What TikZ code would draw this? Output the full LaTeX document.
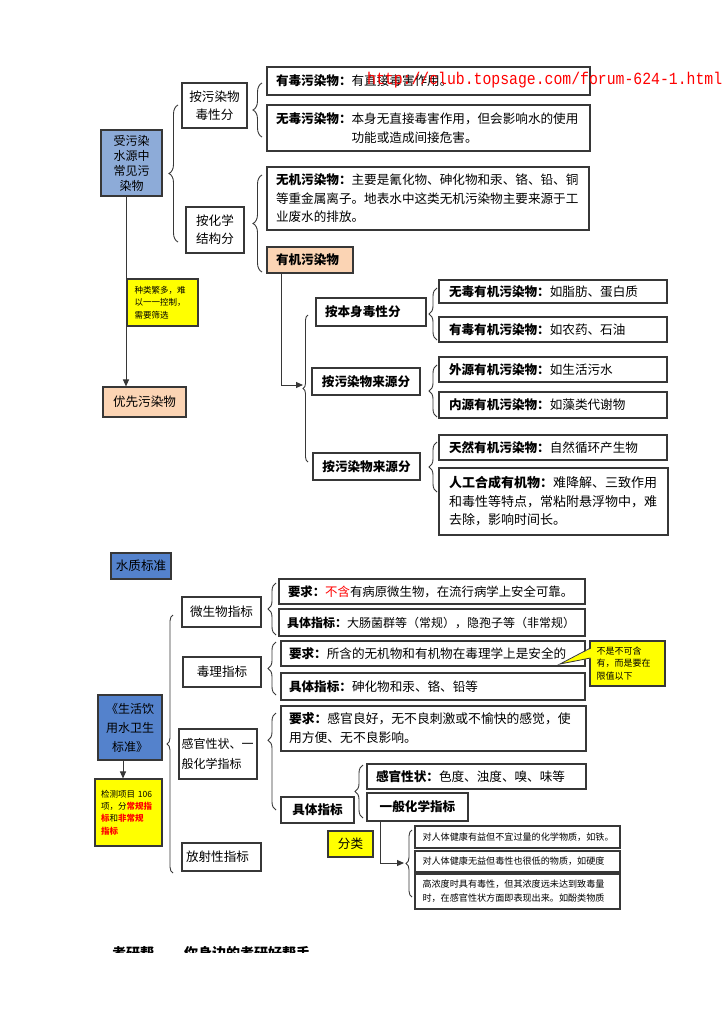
\documentclass[tikz,border=0pt]{standalone}
\usepackage{fontspec}
\setmainfont{Noto Sans CJK SC}
\newfontfamily\wmfont{Liberation Mono}
\usetikzlibrary{arrows.meta,decorations.pathreplacing}
\definecolor{bluea}{RGB}{141,171,216}
\definecolor{blueb}{RGB}{84,130,204}
\definecolor{peach}{RGB}{251,212,180}
\definecolor{yel}{RGB}{255,255,0}
\definecolor{bord}{RGB}{55,55,55}
\begin{document}
\begin{tikzpicture}[x=1pt,y=-1pt,
  bx/.style={draw=bord, line width=1.1pt, inner sep=0pt, fill=white, font=\fontsize{12.6}{18.5}\selectfont, align=left},
  bc/.style={bx, align=center},
  sm/.style={bx, font=\fontsize{9.1}{14}\selectfont},
  arr/.style={draw=bord, line width=1pt, -{Triangle[length=7pt,width=6pt]}},
  brc/.style={draw=bord, line width=0.9pt, decorate, decoration={brace, amplitude=#1}},
  brc/.default=8pt]
\useasboundingbox (0,0) rectangle (724,1024);

% ---------- top part ----------
\node[bc, fill=bluea, minimum width=61pt, minimum height=66pt, font=\fontsize{12}{15}\selectfont] (m1) at (131.5,163) {受污染\\水源中\\常见污\\染物};
\node[bc, fill=peach, minimum width=83pt, minimum height=30pt] (prio) at (144.5,402) {优先污染物};
\node[bx, fill=yel, minimum width=71pt, minimum height=47pt, text width=56pt, font=\fontsize{8.5}{12.5}\selectfont] (n1) at (162.5,302.5) {种类繁多，难\\以一一控制，\\需要筛选};

\node[bc, minimum width=65pt, minimum height=45pt, font=\fontsize{12.6}{18}\selectfont] (tox) at (214.5,105.5) {按污染物\\毒性分};
\node[bc, minimum width=58pt, minimum height=46pt, font=\fontsize{12.6}{18}\selectfont] (chem) at (215,230) {按化学\\结构分};

\node[bx, minimum width=323pt, minimum height=28pt, text width=305pt] (t1) at (428.5,81) {\textbf{有毒污染物：}有直接毒害作用。};
\node[bx, minimum width=323pt, minimum height=46pt, text width=305pt] (t2) at (428.5,128) {\textbf{无毒污染物：}本身无直接毒害作用，但会影响水的使用\\\hspace*{6em}功能或造成间接危害。};
\node[bx, minimum width=322pt, minimum height=63pt, text width=304pt] (inorg) at (428,198.5) {\textbf{无机污染物：}主要是氰化物、砷化物和汞、铬、铅、铜\\等重金属离子。地表水中这类无机污染物主要来源于工\\业废水的排放。};
\node[bx, fill=peach, minimum width=86pt, minimum height=26pt, text width=68pt] (org) at (310,260) {\textbf{有机污染物}};

% ---------- organic pollutants ----------
\node[bx, minimum width=110pt, minimum height=28pt, text width=92pt] (o1) at (371,312) {\textbf{按本身毒性分}};
\node[bc, minimum width=108pt, minimum height=27pt] (o2) at (366,381.5) {\textbf{按污染物来源分}};
\node[bc, minimum width=107pt, minimum height=27pt] (o3) at (366.5,466.5) {\textbf{按污染物来源分}};

\node[bx, minimum width=228pt, minimum height=23pt, text width=208pt] (r1) at (553,291.5) {\textbf{无毒有机污染物：}如脂肪、蛋白质};
\node[bx, minimum width=228pt, minimum height=25pt, text width=208pt] (r2) at (553,329.5) {\textbf{有毒有机污染物：}如农药、石油};
\node[bx, minimum width=228pt, minimum height=25pt, text width=208pt] (r3) at (553,369.5) {\textbf{外源有机污染物：}如生活污水};
\node[bx, minimum width=228pt, minimum height=26pt, text width=208pt] (r4) at (553,405) {\textbf{内源有机污染物：}如藻类代谢物};
\node[bx, minimum width=228pt, minimum height=25pt, text width=208pt] (r5) at (553,447.5) {\textbf{天然有机污染物：}自然循环产生物};
\node[bx, minimum width=229pt, minimum height=67pt, text width=209pt, font=\fontsize{13}{18.5}\selectfont] (r6) at (553.5,501.5) {\textbf{人工合成有机物：}难降解、三致作用\\和毒性等特点，常粘附悬浮物中，难\\去除，影响时间长。};

% ---------- water quality standard ----------
\node[bc, fill=blueb, minimum width=60pt, minimum height=26pt] (wq) at (141,566) {水质标准};
\node[bc, fill=blueb, minimum width=64pt, minimum height=65pt, font=\fontsize{12}{19}\selectfont] (std) at (130,727.5) {《生活饮\\用水卫生\\标准》};
\node[bx, fill=yel, minimum width=67pt, minimum height=67pt, text width=55pt, font=\fontsize{8.5}{12.3}\selectfont] (n2) at (128.5,812.5) {检测项目 106\\项，分\textcolor{red}{\textbf{常规指}}\\\textcolor{red}{\textbf{标}}和\textcolor{red}{\textbf{非常规}}\\\textcolor{red}{\textbf{指标}}};

\node[bc, minimum width=79pt, minimum height=30pt] (micro) at (221.5,612) {微生物指标};
\node[bc, minimum width=78pt, minimum height=30pt] (toxi) at (222,672) {毒理指标};
\node[bx, minimum width=78pt, minimum height=50pt, text width=73pt, font=\fontsize{12}{20}\selectfont] (sens) at (218,754) {感官性状、一\\般化学指标};
\node[bx, minimum width=79pt, minimum height=28pt, text width=71pt] (rad) at (221.5,857) {放射性指标};

\node[bx, minimum width=306pt, minimum height=25pt, text width=288pt, font=\fontsize{12.4}{18}\selectfont] (q1) at (432,591.5) {\textbf{要求：}\textcolor{red}{不含}有病原微生物，在流行病学上安全可靠。};
\node[bx, minimum width=306pt, minimum height=27pt, text width=290pt, font=\fontsize{12}{18}\selectfont] (q2) at (432,622.5) {\textbf{具体指标：}大肠菌群等（常规），隐孢子等（非常规）};
\node[bx, minimum width=304pt, minimum height=25pt, text width=288pt, font=\fontsize{12.6}{18}\selectfont] (q3) at (433,653.5) {\textbf{要求：}所含的无机物和有机物在毒理学上是安全的};
\node[bx, minimum width=304pt, minimum height=27pt, text width=288pt, font=\fontsize{12.6}{18}\selectfont] (q4) at (433,686.5) {\textbf{具体指标：}砷化物和汞、铬、铅等};
\node[bx, minimum width=305pt, minimum height=45pt, text width=289pt, font=\fontsize{12.8}{19}\selectfont] (q5) at (433.5,728.5) {\textbf{要求：}感官良好，无不良刺激或不愉快的感觉，使\\用方便、无不良影响。};

\node[bx, fill=yel, minimum width=75pt, minimum height=45pt, text width=62pt, font=\fontsize{9}{12.5}\selectfont] (call) at (627.5,663.5) {不是不可含\\有，而是要在\\限值以下};
\coordinate (ptip) at (560,664);
\fill[yel] (592,648) -- (ptip) -- (592,658) -- cycle;
\draw[bord, line width=0.8pt] (590.5,648) -- (ptip) -- (590.5,658);

\node[bc, minimum width=73pt, minimum height=26pt] (spec) at (317.5,810) {\textbf{具体指标}};
\node[bx, minimum width=219pt, minimum height=25pt, text width=201pt] (s1) at (476.5,776.5) {\textbf{感官性状：}色度、浊度、嗅、味等};
\node[bc, minimum width=101pt, minimum height=28pt] (gchem) at (417.5,807) {\textbf{一般化学指标}};
\node[bc, fill=yel, minimum width=45pt, minimum height=26pt] (cls) at (350.5,844) {分类};

\node[sm, minimum width=205pt, minimum height=22pt, text width=190pt] (c1) at (517.5,837) {对人体健康有益但不宜过量的化学物质，如铁。};
\node[sm, minimum width=205pt, minimum height=21pt, text width=190pt] (c2) at (517.5,861.5) {对人体健康无益但毒性也很低的物质，如硬度};
\node[sm, minimum width=205pt, minimum height=35pt, text width=190pt] (c3) at (517.5,891.5) {高浓度时具有毒性，但其浓度远未达到致毒量\\时，在感官性状方面即表现出来。如酚类物质};

% ---------- connectors ----------
\coordinate (xa) at (126,0);
\draw[arr] (m1.south -| xa) -- (prio.north -| xa);
\coordinate (xb) at (281,0);
\coordinate (tipb) at (303,385);
\draw[arr] (org.south -| xb) |- (tipb);
\coordinate (xc) at (123,0);
\draw[arr] (std.south -| xc) -- (n2.north -| xc);
\coordinate (xd) at (380,0);
\coordinate (tipd) at (404,863);
\draw[arr] (gchem.south -| xd) |- (tipd);

% ---------- braces ----------
\draw[brc=9pt] (178,242) -- (178,105);
\draw[brc=9pt] (262,137) -- (262,83);
\draw[brc=9pt] (262,272) -- (262,175);
\draw[brc=5pt] (308,462) -- (308,315);
\draw[brc=8pt] (437,340) -- (437,288);
\draw[brc=8pt] (437,417) -- (437,365);
\draw[brc=8pt] (437,492) -- (437,442);
\draw[brc=6pt] (173,873) -- (173,615);
\draw[brc=8pt] (276,635) -- (276,583);
\draw[brc=8pt] (276,695) -- (276,642);
\draw[brc=8pt, decoration={aspect=0.72}] (276,810) -- (276,713);
\draw[brc=8pt] (363,818) -- (363,765);
\draw[brc=6pt] (412,897) -- (412,830);

% ---------- watermark ----------
\node[anchor=base west, inner sep=0pt, text=red, font=\wmfont\fontsize{17}{17}\selectfont, xscale=0.87] (wm) at (367,85) {http://club.topsage.com/forum-624-1.html};

% ---------- clipped footer ----------
\begin{scope}
\clip (100,938) rectangle (340,952);
\node[anchor=base west, inner sep=0pt, font=\fontsize{14}{14}\selectfont\bfseries] (ft1) at (112,958) {考研帮};
\node[anchor=base west, inner sep=0pt, font=\fontsize{14}{14}\selectfont\bfseries] (ft2) at (184,958) {你身边的考研好帮手};
\end{scope}
\end{tikzpicture}
\end{document}
